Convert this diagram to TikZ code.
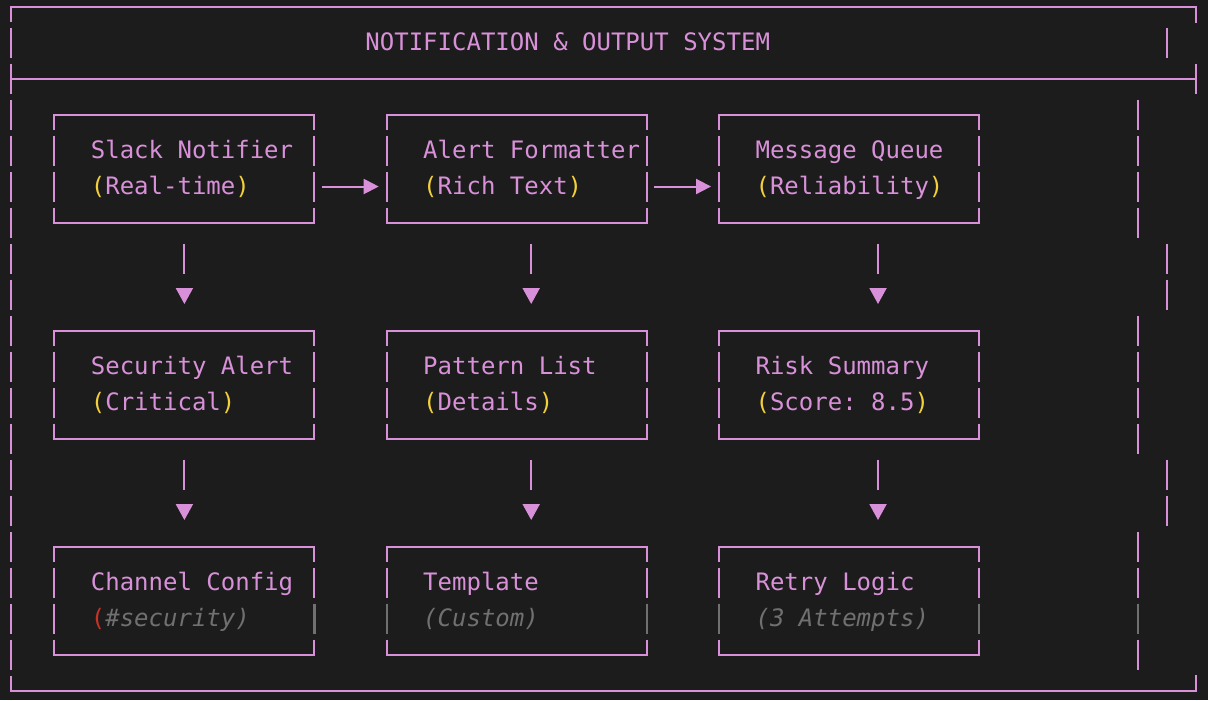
\documentclass[tikz,border=0pt]{standalone}
\usepackage{fontspec}
\setmonofont{DejaVu Sans Mono}
\usepackage{tikz}
\usetikzlibrary{arrows.meta, calc}
\definecolor{termbg}{RGB}{28,28,28}
\definecolor{termpink}{RGB}{216,145,216}
\definecolor{termyellow}{RGB}{243,207,60}
\definecolor{termred}{RGB}{196,50,40}
\definecolor{termgray}{RGB}{112,112,112}
\def\paren#1{\textcolor{termyellow}{(}#1\textcolor{termyellow}{)}}
\def\cmnt#1{\textcolor{termgray}{\itshape(#1)}}
\def\redcmnt#1{\textcolor{termred}{(}\textcolor{termgray}{\itshape#1)}}

\begin{document}
\begin{tikzpicture}[
	  x=7.225pt, y=-18pt,
	  termpink,
	  frame_line/.style={
	  	draw,
	  	termpink,
	  	line width=1pt,
	  	line cap=rect
	  },
	  side_line/.style={
	  	draw,
	  	termpink,
	  	line width=1pt,
	  	dash pattern=on 15pt off 3pt,
	  	dash phase=7.5pt
	  },
	  bar_line/.style={
	  	draw,
	  	termpink,
	  	line width=1pt,
	  	dash pattern=on 15pt off 3pt
	  },
	  comment_bar/.style={draw, termgray, line width=1.2pt},
	  box_style/.style={
	  	rectangle,
	  	minimum width=130.05pt,
	  	minimum height=54pt,
	  	inner sep=0pt,
	  	outer sep=0pt,
	  	append after command={
	  		(\tikzlastnode.north west) edge[frame_line] (\tikzlastnode.north east)
	  		(\tikzlastnode.south west) edge[frame_line] (\tikzlastnode.south east)
	  		(\tikzlastnode.north west) edge[side_line] (\tikzlastnode.south west)
	  		(\tikzlastnode.north east) edge[side_line] (\tikzlastnode.south east)}
	  },
	  text_style/.style={
	  	anchor=base west,
	  	inner sep=0pt,
	  	text=termpink,
	  	font=\ttfamily\fontsize{12}{18}\selectfont\frenchspacing
	  },
	  flow_arrow/.style={
	  	draw,
	  	termpink,
	  	line width=1pt,
	  	shorten <=3.75pt,
	  	shorten >=4pt,
	  	-{Triangle[length=7.5pt,width=7.5pt]}
	  },
	  drop_arrow/.style={
	  	draw,
	  	termpink,
	  	line width=1pt,
	  	shorten >=13.25pt,
	  	dash pattern=on 15pt off 100pt,
	  	dash phase=104.5pt,
	  	-{Triangle[length=8pt,width=8.5pt]}
	  }]
	% Background
	\fill[termbg] (-0.7612,-0.1806) rectangle (82.837,19.264);
	\useasboundingbox (-0.7612,-0.1806) rectangle (82.837,19.264);

	% Outer frame
	\draw[frame_line] (0,0) -- (82,0);
	\draw[frame_line] (0,2) -- (82,2);
	\draw[frame_line] (0,19) -- (82,19);
	\draw[side_line] (0,0) -- (0,19);
	\draw[frame_line] (82,0) -- (82,0.4167);
	\draw[frame_line, line cap=butt] (82,1.5833) -- (82,2.4167);
	\draw[frame_line] (82,18.5833) -- (82,19);
	\draw[frame_line, line cap=butt] (80,0.5833) -- (80,1.4167);
	\foreach \a/\b in {3/6, 9/12, 15/18}
		\draw[bar_line] (78,\a-0.4167) -- (78,\b+0.4167);
	\foreach \a/\b in {7/8, 13/14}
		\draw[bar_line] (80,\a-0.4167) -- (80,\b+0.4167);

	% Title
	\node[text_style] (title) at (24.5,1.2083) {NOTIFICATION \& OUTPUT SYSTEM};

	% Boxes
	\foreach \name/\col/\row/\head/\tail in {
		slack/12/4.5/Slack Notifier/\paren{Real-time},
		formatter/35/4.5/Alert Formatter/\paren{Rich Text},
		queue/58/4.5/Message Queue/\paren{Reliability},
		alert/12/10.5/Security Alert/\paren{Critical},
		patterns/35/10.5/Pattern List/\paren{Details},
		summary/58/10.5/Risk Summary/\paren{Score: 8.5},
		channel/12/16.5/Channel Config/\redcmnt{\#security},
		template/35/16.5/Template/\cmnt{Custom},
		retry/58/16.5/Retry Logic/\cmnt{3 Attempts}}
	{
		\node[box_style] (\name) at (\col,\row) {};
		\node[text_style] (\name_head) at ([xshift=18.06pt, yshift=-21.75pt]\name.north west) {\head};
		\node[text_style] (\name_tail) at ([xshift=18.06pt, yshift=-39.75pt]\name.north west) {\tail};
	}

	% Comment row bars
	\foreach \x in {21, 26, 44, 49, 67, 78}
		\draw[comment_bar] (\x,16.5833) -- (\x,17.4167);

	% Connectors
	\draw[flow_arrow] ([yshift=-9pt]slack.east) -- ([yshift=-9pt]formatter.west);
	\draw[flow_arrow] ([yshift=-9pt]formatter.east) -- ([yshift=-9pt]queue.west);
	\foreach \from/\to/\dx in {slack/alert/0, formatter/patterns/1, queue/summary/2,
			alert/channel/0, patterns/template/1, summary/retry/2}
		\draw[drop_arrow] ([xshift=\dx*7.225pt]\from.south) -- ([xshift=\dx*7.225pt]\to.north);
\end{tikzpicture}
\end{document}
